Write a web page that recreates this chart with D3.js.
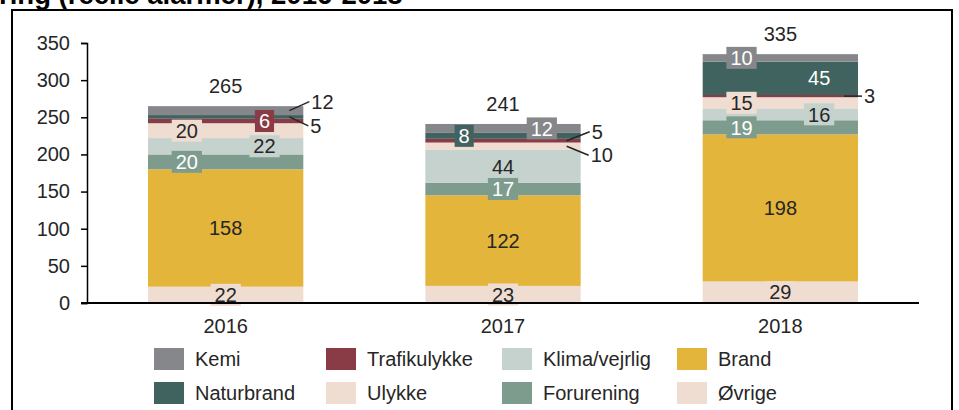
<!DOCTYPE html>
<html lang="da">
<head>
    <meta charset="utf-8" />
    <title>Indsatser fordelt på hændelsestype, 2016-2018</title>
    <script src="https://d3js.org/d3.v7.js"></script>
    <style>
        body, html {
            margin: 0;
            padding: 0;
            background: #ffffff;
            overflow: hidden;
        }
        svg text {
            font-family: "Liberation Sans", Arial, sans-serif;
        }
        .title {
            font-size: 27.5px;
            font-weight: bold;
            fill: #000;
        }
        .yAxis text { font-size: 20px; fill: #262626; }
        .xAxis text { font-size: 20px; fill: #262626; }
        .label { font-size: 20px; }
        .legend text { font-size: 20px; fill: #262626; }
    </style>
</head>
<body>
    <div id="canvas"></div>
</body>
</html>
<script>
    // data (stack order: bottom -> top)
    var years = ["2016", "2017", "2018"];
    var seriesNames = ["Øvrige", "Brand", "Forurening", "Klima/vejrlig", "Ulykke", "Trafikulykke", "Naturbrand", "Kemi"];
    var ovrige       = [22, 23, 29];
    var brand        = [158, 122, 198];
    var forurening   = [20, 17, 19];
    var klima        = [22, 44, 16];
    var ulykke       = [20, 10, 15];
    var trafikulykke = [6, 5, 3];
    var naturbrand   = [5, 8, 45];
    var kemi         = [12, 12, 10];
    var yTicks = [0, 50, 100, 150, 200, 250, 300, 350];
    var legendRows = [
        ["Kemi", "Trafikulykke", "Klima/vejrlig", "Brand"],
        ["Naturbrand", "Ulykke", "Forurening", "Øvrige"]
    ];

    var seriesValues = [ovrige, brand, forurening, klima, ulykke, trafikulykke, naturbrand, kemi];

    // farver
    var colors = {
        "Kemi": "#85878a",
        "Naturbrand": "#416360",
        "Trafikulykke": "#8a3c46",
        "Ulykke": "#f0ddd2",
        "Klima/vejrlig": "#c5d2cd",
        "Forurening": "#7e9c8e",
        "Brand": "#e3b53b",
        "Øvrige": "#f0ddd2"
    };
    var whiteText = ["Kemi", "Naturbrand", "Trafikulykke", "Forurening"];

    // placering af data labels (fx = andel af søjlebredde, out = udenfor med streg)
    var placement = {
        "2016": {"Øvrige": {fx: 0.5}, "Brand": {fx: 0.5}, "Forurening": {fx: 0.25}, "Klima/vejrlig": {fx: 0.75},
                 "Ulykke": {fx: 0.25}, "Trafikulykke": {fx: 0.75}, "Naturbrand": {out: true, ex: 5, ey: 9},
                 "Kemi": {out: true, ex: 6, ey: -9}},
        "2017": {"Øvrige": {fx: 0.5}, "Brand": {fx: 0.5}, "Forurening": {fx: 0.5}, "Klima/vejrlig": {fx: 0.5},
                 "Ulykke": {out: true, ex: 8, ey: 9}, "Trafikulykke": {out: true, ex: 9, ey: -9},
                 "Naturbrand": {fx: 0.25}, "Kemi": {fx: 0.75}},
        "2018": {"Øvrige": {fx: 0.5}, "Brand": {fx: 0.5}, "Forurening": {fx: 0.25}, "Klima/vejrlig": {fx: 0.75},
                 "Ulykke": {fx: 0.25}, "Trafikulykke": {out: true, ex: 4, ey: 0},
                 "Naturbrand": {fx: 0.75}, "Kemi": {fx: 0.25}}
    };

    // tabel til d3.stack
    var table = years.map(function(yr, i) {
        var row = {year: yr};
        seriesNames.forEach(function(s, j) { row[s] = seriesValues[j][i]; });
        return row;
    });
    var stacked = d3.stack().keys(seriesNames)(table);

    var W = 959, H = 410;
    var svg = d3.select("#canvas")
        .append("svg")
        .attr("width", W)
        .attr("height", H);

    // titel (afskåret i toppen, som i originalen) og ramme
    svg.append("text")
        .attr("class", "title")
        .attr("x", -1)
        .attr("y", 3.5)
        .text("ring (reelle alarmer), 2016-2018");

    svg.append("rect")
        .attr("x", 12)
        .attr("y", 10)
        .attr("width", 940)
        .attr("height", 420)
        .attr("fill", "none")
        .attr("stroke", "#000")
        .attr("stroke-width", 2);

    var x = d3.scaleBand()
        .domain(years)
        .range([87, 919])
        .paddingInner(0.44)
        .paddingOuter(0.22);

    var y = d3.scaleLinear()
        .domain([0, 350])
        .range([303, 43]);

    // søjler
    var layers = svg.append("g")
        .selectAll("g")
        .data(stacked)
        .enter()
        .append("g")
        .attr("fill", function(d) { return colors[d.key]; });

    layers.selectAll("rect")
        .data(function(d) { return d; })
        .enter()
        .append("rect")
        .attr("x", function(d) { return x(d.data.year); })
        .attr("y", function(d) { return y(d[1]); })
        .attr("width", x.bandwidth())
        .attr("height", function(d) { return y(d[0]) - y(d[1]); });

    // data labels
    var labelG = svg.append("g");
    stacked.forEach(function(layer) {
        var key = layer.key;
        layer.forEach(function(d) {
            var yr = d.data.year;
            var p = placement[yr][key];
            var val = d[1] - d[0];
            var cy = (y(d[0]) + y(d[1])) / 2;
            var left = x(yr), right = x(yr) + x.bandwidth();

            if (p.out) {
                var sx = right - 14, exX = right + p.ex, exY = cy + p.ey;
                labelG.append("line")
                    .attr("x1", sx).attr("y1", cy)
                    .attr("x2", exX).attr("y2", exY)
                    .attr("stroke", "#262626")
                    .attr("stroke-width", 1.5);
                labelG.append("text")
                    .attr("class", "label")
                    .attr("x", exX + 2)
                    .attr("y", exY)
                    .attr("dy", "0.36em")
                    .attr("fill", "#262626")
                    .text(val);
            } else {
                var cx = left + p.fx * x.bandwidth();
                var t = labelG.append("text")
                    .attr("class", "label")
                    .attr("x", cx)
                    .attr("y", cy)
                    .attr("dy", "0.36em")
                    .attr("text-anchor", "middle")
                    .attr("fill", whiteText.indexOf(key) >= 0 ? "#ffffff" : "#262626")
                    .text(val);
                var bb = t.node().getBBox();
                labelG.insert("rect", function() { return t.node(); })
                    .attr("x", bb.x - 4)
                    .attr("y", cy - 11)
                    .attr("width", bb.width + 8)
                    .attr("height", 22)
                    .attr("fill", colors[key]);
            }
        });
    });

    // totaler over søjlerne
    svg.append("g")
        .selectAll("text")
        .data(table)
        .enter()
        .append("text")
        .attr("class", "label")
        .attr("x", function(d) { return x(d.year) + x.bandwidth() / 2; })
        .attr("y", function(d) { return y(d3.sum(seriesNames, function(s) { return d[s]; })) - 20; })
        .attr("dy", "0.36em")
        .attr("text-anchor", "middle")
        .attr("fill", "#262626")
        .text(function(d) { return d3.sum(seriesNames, function(s) { return d[s]; }); });

    // y-akse
    var yAxis = svg.append("g")
        .attr("class", "yAxis")
        .attr("transform", "translate(87,0)")
        .call(d3.axisLeft(y).tickValues(yTicks).tickSize(6).tickPadding(11));
    yAxis.selectAll("path, line").attr("stroke", "#000").attr("stroke-width", 1.5);

    // x-akse
    var xAxis = svg.append("g")
        .attr("class", "xAxis")
        .attr("transform", "translate(0,303)")
        .call(d3.axisBottom(x).tickSize(0).tickPadding(16));
    xAxis.select(".domain").remove();
    xAxis.append("line")
        .attr("x1", x.range()[0] - 6)
        .attr("x2", x.range()[1])
        .attr("stroke", "#000")
        .attr("stroke-width", 2);

    // legende
    var legend = svg.append("g").attr("class", "legend");
    var colX = [154, 326, 502, 677], rowY = [348, 382];
    legendRows.forEach(function(row, r) {
        row.forEach(function(name, c) {
            legend.append("rect")
                .attr("x", colX[c])
                .attr("y", rowY[r])
                .attr("width", 30)
                .attr("height", 22)
                .attr("fill", colors[name]);
            legend.append("text")
                .attr("x", colX[c] + 41)
                .attr("y", rowY[r] + 11)
                .attr("dy", "0.36em")
                .text(name);
        });
    });
</script>
